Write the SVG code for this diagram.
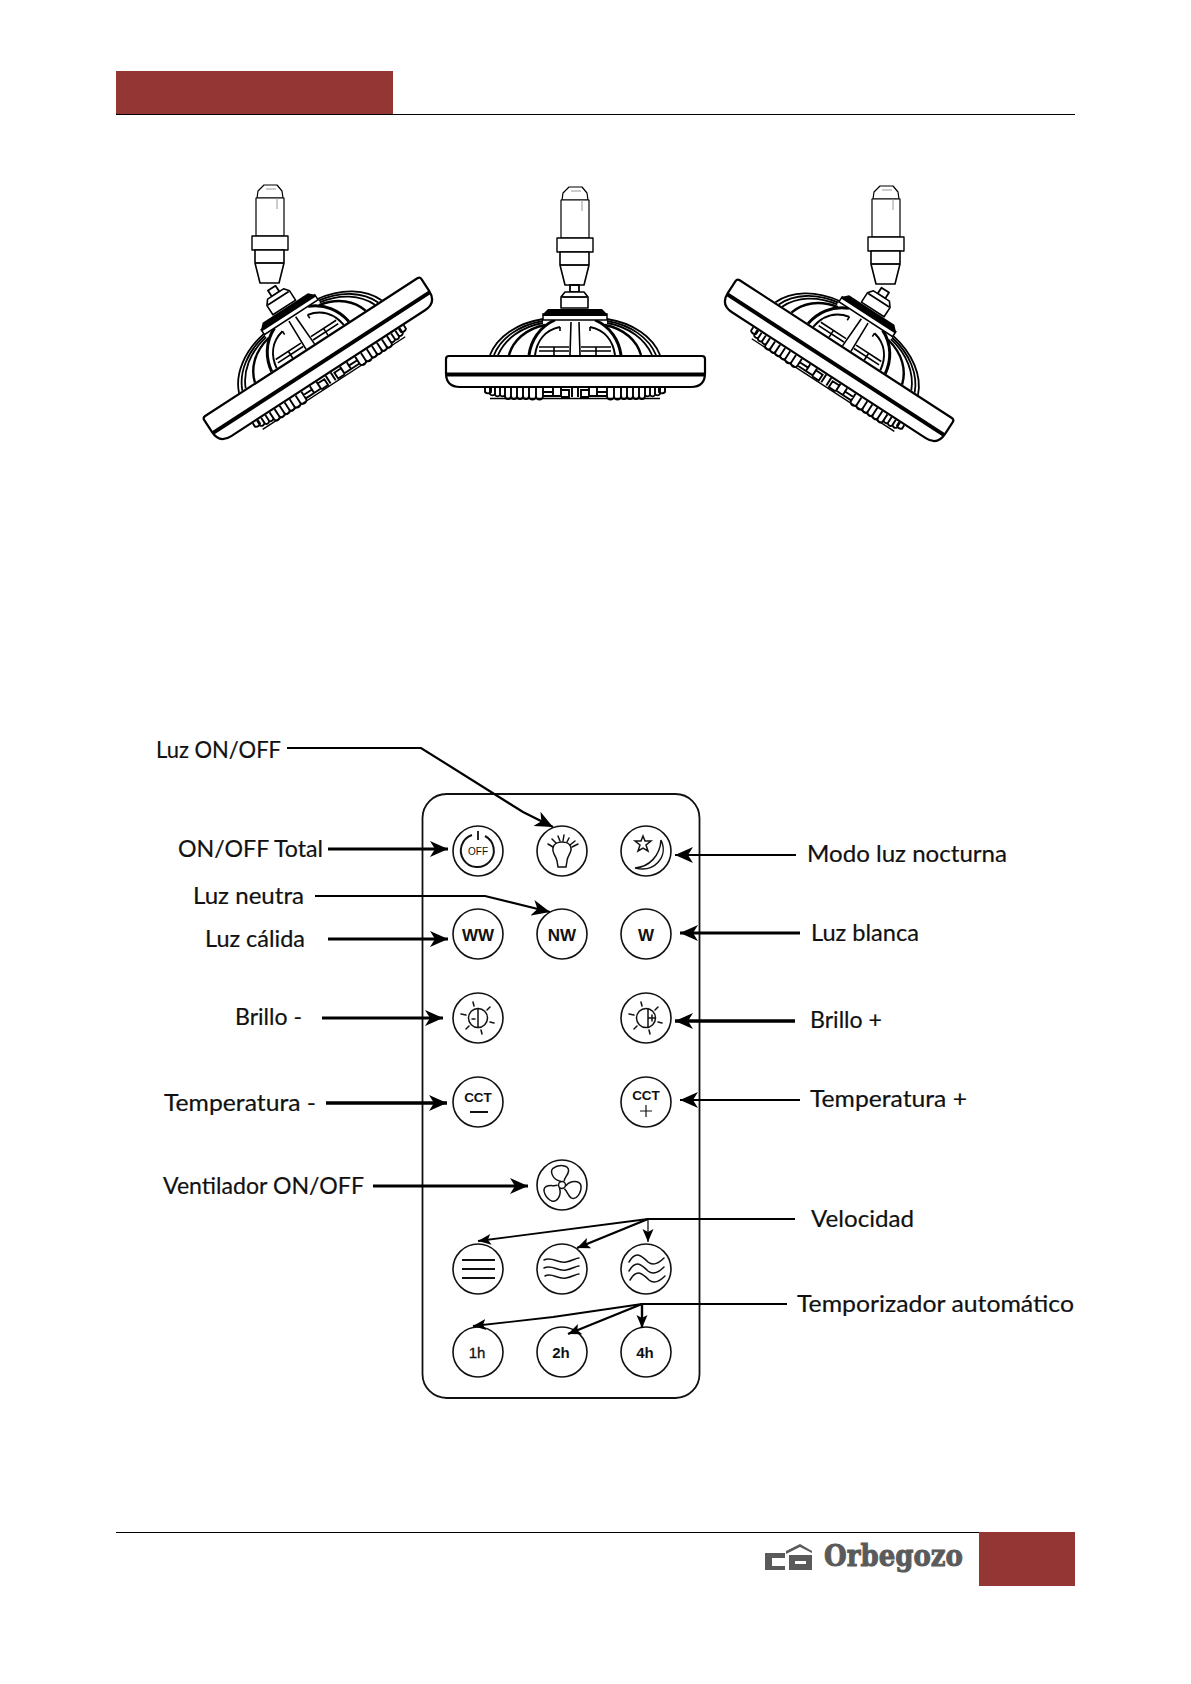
<svg xmlns="http://www.w3.org/2000/svg" width="1191" height="1684" viewBox="0 0 1191 1684">
<style>
.lb{font-family:"Lato","Carlito","Liberation Sans",sans-serif;font-size:24px;fill:#111;stroke:#111;stroke-width:.2}
.bt{font-family:"Liberation Sans",Arial,sans-serif;font-weight:700;fill:#111;text-anchor:middle}
.c{fill:#fff;stroke:#111;stroke-width:1.6}
.i{fill:none;stroke:#111;stroke-width:1.5;stroke-linecap:round}
.a{fill:none;stroke:#000;stroke-width:3;marker-end:url(#ah)}
.as{fill:none;stroke:#000;stroke-width:2.4;marker-end:url(#ahs)}
.l{fill:none;stroke:#000;stroke-width:1.8;stroke-linejoin:round}
.g{fill:none;stroke:#000;stroke-width:1.9}
.w{fill:#fff;stroke:#000;stroke-width:1.6;stroke-linejoin:round}
</style>
<defs>
<marker id="ah" markerUnits="userSpaceOnUse" markerWidth="20" markerHeight="18" refX="18" refY="9" orient="auto" viewBox="0 0 20 18"><path d="M0,1 L18,9 L0,17 L5,9Z" fill="#000"/></marker>
<marker id="ahs" markerUnits="userSpaceOnUse" markerWidth="14" markerHeight="12" refX="13" refY="6" orient="auto" viewBox="0 0 14 12"><path d="M0,0.5 L13,6 L0,11.5 L3,6Z" fill="#000"/></marker>
<g id="half">
<path class="l" d="M-85,-16C-78,-34 -58,-48 -32,-52"/>
<path class="l" d="M-81,-16C-74,-33 -56,-46 -32,-50"/>
<path class="l" d="M-77,-16C-70,-32 -54,-44 -32,-48"/>
<path class="l" d="M-66,-16C-62,-30 -50,-42 -30,-46" style="stroke-width:2.4"/>
<path class="l" d="M-46,-16C-44,-30 -36,-44 -20,-51" style="stroke-width:3"/>
<path class="l" d="M-40,-16C-38,-30 -30,-41 -15,-44" style="stroke-width:2"/>
<path class="l" d="M-4,-49L-5,-16M-15,-44V-40M-36,-24H-6M-36,-20H-6M-21,-24V-16" style="stroke-width:1.6"/>
<path class="g" d="M-90,17v4a4,4 0 0 0 6,0v-4M-85,17v6a3,3 0 0 0 5,0v-6M-80,17v7a3,3 0 0 0 5,0v-7M-75,17v7a3,3 0 0 0 5,0v-7M-70,17v8a3,3 0 0 0 6,0v-8M-64,17v8a3,3 0 0 0 6,0v-8M-58,17v8a3,3 0 0 0 6,0v-8M-52,17v8a3,3 0 0 0 6,0v-8M-46,17v8a3,3 0 0 0 7,0v-8M-39,17v8a3,3 0 0 0 7,0v-8M-32,17v4h10v-4M-32,25h10M-22,17v8h8v-8M-14,19h8v7h-8M-3,17v9"/>
</g>
<g id="head">
<path class="l" d="M-5,-86H4V-79H-5Z"/>
<path class="w" d="M-10,-79H9L13,-74V-63H-14V-74Z"/>
<path class="l" d="M-13,-74H12"/>
<use href="#half"/><use href="#half" transform="scale(-1,1)"/>
<path fill="#fff" stroke="#000" stroke-width="1.5" d="M-32,-57H32V-51H-32Z"/>
<path fill="#000" d="M-27,-62H27L32,-57V-55H-32V-57Z"/>
<path class="l" style="stroke-width:1.4" d="M-85,27.5H85"/>
<path d="M-129,-12Q-129,-15 -126,-15H127Q130,-15 130,-12V2Q130,16 116,16H-115Q-129,16 -129,2Z" fill="#fff" stroke="#000" stroke-width="2.2"/>
<rect x="-129" y="1.5" width="259" height="4" fill="#000"/>
</g>
<g id="stem">
<path class="w" d="M-6,0H7L12,6L13,13H-13L-12,6Z" style="stroke-width:1.2"/>
<path class="w" d="M-14,13H14V51H-14Z" style="stroke-width:1.2"/>
<path class="w" d="M-18,51H18V65H-18Z" style="stroke-width:1.4"/>
<path class="w" d="M-15,65H14V78L9,98H-10L-15,78Z" style="stroke-width:1.6"/>
<path d="M-15,78H14" stroke="#000" stroke-width="1.8"/>
<path d="M-4,4H6M7,13V24" stroke="#999" stroke-width="1" fill="none"/>
</g>
<g id="rays">
<path class="i" d="M-5,-16L-4,-12M12,-11L9,-8M16,5L12,4M4,16L3,12M-12,11L-9,8M-17,-4L-12,-3"/>
</g>
<path id="blade" class="i" d="M-1,-4C-8,-7 -10,-15 -6,-18C0,-21 10,-19 9,-13C8,-9 4,-7 3,-4"/>
</defs>
<rect width="1191" height="1684" fill="#fff"/>
<g id="header"><rect x="116" y="71" width="277" height="43" fill="#943634"/><path d="M116,114.5H1075" stroke="#000" stroke-width="1"/></g>
<g id="footer"><path d="M116,1532.5H979" stroke="#000" stroke-width="1"/><rect x="979" y="1532" width="96" height="54" fill="#943634"/>
<g id="logo" fill="#5a5a5a"><path d="M765,1553H785V1558H772V1566H785V1570H765Z"/><path d="M786,1551L800,1544L812,1551V1553L800,1547L786,1554Z"/><path d="M789,1555H812V1570H789ZM795,1561V1564H806V1561Z" fill-rule="evenodd"/><text x="824" y="1566" font-family="DejaVu Serif,Liberation Serif,serif" font-weight="700" font-size="30" textLength="139" lengthAdjust="spacingAndGlyphs" stroke="#5a5a5a" stroke-width="1">Orbegozo</text></g></g>
<g id="fan-left"><use href="#stem" x="270" y="185"/><use href="#head" transform="translate(319,360) rotate(-33)"/></g>
<g id="fan-center"><use href="#stem" x="575" y="187"/><use href="#head" transform="translate(575,371)"/></g>
<g id="fan-right"><use href="#stem" x="886" y="186"/><use href="#head" transform="translate(838,362) scale(-1,1) rotate(-33)"/></g>
<g id="remote"><rect x="422.5" y="794" width="277" height="604" rx="24" fill="#fff" stroke="#111" stroke-width="1.8"/></g>
<g id="btn-off"><circle class="c" cx="478" cy="851" r="25"/><path d="M472,835A16.5,16.5 0 1 0 485,836" fill="none" stroke="#111" stroke-width="2"/><path d="M478,831V840" stroke="#111" stroke-width="1.8"/><text class="bt" x="478" y="855" font-size="10" style="font-weight:400">OFF</text></g>
<g id="btn-light" transform="translate(562,851)"><circle class="c" r="25"/><path class="i" d="M-4,16L-5,10C-6,5 -10,2 -9,-3C-8,-11 8,-11 9,-3C10,2 5,5 5,10L4,16Z"/><path class="i" d="M-14,-7L-9,-4M-10,-12L-6,-8M-4,-15L-2,-10M2,-16L1,-10M7,-13L5,-9M13,-10L8,-6M16,-7L10,-4"/></g>
<g id="btn-night" transform="translate(646,851)"><circle class="c" r="25"/><path class="i" d="M-3,-15L-1,-10L5,-10L0,-6L2,0L-3,-3L-8,0L-6,-6L-11,-10L-5,-10Z"/><path class="i" d="M15,-11C23,6 8,22 -11,17C3,16 14,5 15,-11Z"/></g>
<g id="btn-ww"><circle class="c" cx="478" cy="934" r="25"/><text class="bt" x="478" y="941" font-size="17">WW</text></g>
<g id="btn-nw"><circle class="c" cx="562" cy="934" r="25"/><text class="bt" x="562" y="941" font-size="17">NW</text></g>
<g id="btn-w"><circle class="c" cx="646" cy="934" r="25"/><text class="bt" x="646" y="941" font-size="17">W</text></g>
<g id="btn-dim-minus" transform="translate(478,1018)"><circle class="c" r="25"/><use href="#rays"/><circle class="i" r="9.5"/><path class="i" d="M0,-9.5V9.5M-6,1H-3"/></g>
<g id="btn-dim-plus" transform="translate(646,1018)"><circle class="c" r="25"/><use href="#rays"/><circle class="i" r="9.5"/><path class="i" d="M2,-9.5V9.5M3,0H9M6,-3V3"/></g>
<g id="btn-cct-minus"><circle class="c" cx="478" cy="1102" r="25"/><text class="bt" x="478" y="1101.5" font-size="13.5">CCT</text><path d="M470,1112H488" stroke="#111" stroke-width="2"/></g>
<g id="btn-cct-plus"><circle class="c" cx="646" cy="1102" r="25"/><text class="bt" x="646" y="1100" font-size="13.5">CCT</text><path d="M640,1111H652M646,1105V1117" stroke="#111" stroke-width="1.2"/></g>
<g id="btn-fan" transform="translate(562,1185)"><circle class="c" r="25"/><circle class="i" r="3.5"/><use href="#blade" transform="rotate(-10)"/><use href="#blade" transform="rotate(110)"/><use href="#blade" transform="rotate(230)"/></g>
<g id="btn-speed1"><circle class="c" cx="478" cy="1269" r="25"/><path d="M462,1260H495M462,1269H495M462,1278H495" stroke="#111" stroke-width="2"/></g>
<g id="btn-speed2"><circle class="c" cx="562" cy="1269" r="25"/><path class="i" d="M544,1260C552,1256 558,1264 566,1262C572,1261 576,1258 579,1258M544,1268C552,1264 558,1272 566,1270C572,1269 576,1266 579,1266M545,1276C552,1272 558,1280 566,1278C572,1277 576,1274 579,1274"/></g>
<g id="btn-speed3"><circle class="c" cx="646" cy="1269" r="25"/><path class="i" d="M629,1262C636,1250 642,1256 648,1262C654,1267 660,1262 664,1258M629,1271C636,1259 642,1265 648,1271C654,1276 660,1271 664,1267M630,1280C637,1268 643,1274 649,1280C655,1285 661,1280 665,1276"/></g>
<g id="btn-1h"><circle class="c" cx="478" cy="1352" r="25"/><text class="bt" x="477" y="1358" font-size="15" style="font-weight:400;stroke:#111;stroke-width:.3">1h</text></g>
<g id="btn-2h"><circle class="c" cx="562" cy="1352" r="25"/><text class="bt" x="561" y="1358" font-size="15">2h</text></g>
<g id="btn-4h"><circle class="c" cx="646" cy="1352" r="25"/><text class="bt" x="645" y="1358" font-size="15">4h</text></g>
<g id="connectors">
<path class="a" style="stroke-width:2.2" d="M287,748H421L523,812L553,827"/>
<path class="a" d="M328,849H448"/>
<path class="a" style="stroke-width:2.2" d="M315,896H485L550,912"/>
<path class="a" d="M328,939H448"/>
<path class="a" d="M322,1018H443"/>
<path class="a" style="stroke-width:3.4" d="M326,1103H447"/>
<path class="a" d="M373,1186H528"/>
<path class="a" style="stroke-width:2" d="M796,855H675"/>
<path class="a" d="M800,933H680"/>
<path class="a" style="stroke-width:3.4" d="M795,1021H675"/>
<path class="a" style="stroke-width:2.2" d="M800,1100H680"/>
<path class="as" style="stroke-width:1.8" d="M795,1219H648L478,1241"/>
<path class="as" d="M648,1219L577,1248"/>
<path class="as" style="stroke-width:1.2" d="M648,1219V1242"/>
<path class="as" style="stroke-width:1.8" d="M787,1304H642L553,1317L473,1326"/>
<path class="as" d="M642,1304L568,1334"/>
<path class="as" d="M642,1304V1328"/>
</g>
<g id="labels">
<text class="lb" x="156" y="758" textLength="125" lengthAdjust="spacingAndGlyphs">Luz ON/OFF</text>
<text class="lb" x="178" y="857" textLength="145" lengthAdjust="spacingAndGlyphs">ON/OFF Total</text>
<text class="lb" x="193" y="904" textLength="111" lengthAdjust="spacingAndGlyphs">Luz neutra</text>
<text class="lb" x="205" y="947" textLength="100" lengthAdjust="spacingAndGlyphs">Luz cálida</text>
<text class="lb" x="235" y="1025" textLength="67" lengthAdjust="spacingAndGlyphs">Brillo -</text>
<text class="lb" x="164" y="1111" textLength="152" lengthAdjust="spacingAndGlyphs">Temperatura -</text>
<text class="lb" x="163" y="1194" textLength="201" lengthAdjust="spacingAndGlyphs">Ventilador ON/OFF</text>
<text class="lb" x="807" y="862" textLength="200" lengthAdjust="spacingAndGlyphs">Modo luz nocturna</text>
<text class="lb" x="811" y="941" textLength="108" lengthAdjust="spacingAndGlyphs">Luz blanca</text>
<text class="lb" x="810" y="1028" textLength="72" lengthAdjust="spacingAndGlyphs">Brillo +</text>
<text class="lb" x="810" y="1107" textLength="157" lengthAdjust="spacingAndGlyphs">Temperatura +</text>
<text class="lb" x="811" y="1227" textLength="103" lengthAdjust="spacingAndGlyphs">Velocidad</text>
<text class="lb" x="797" y="1312" textLength="277" lengthAdjust="spacingAndGlyphs">Temporizador automático</text>
</g>
</svg>
